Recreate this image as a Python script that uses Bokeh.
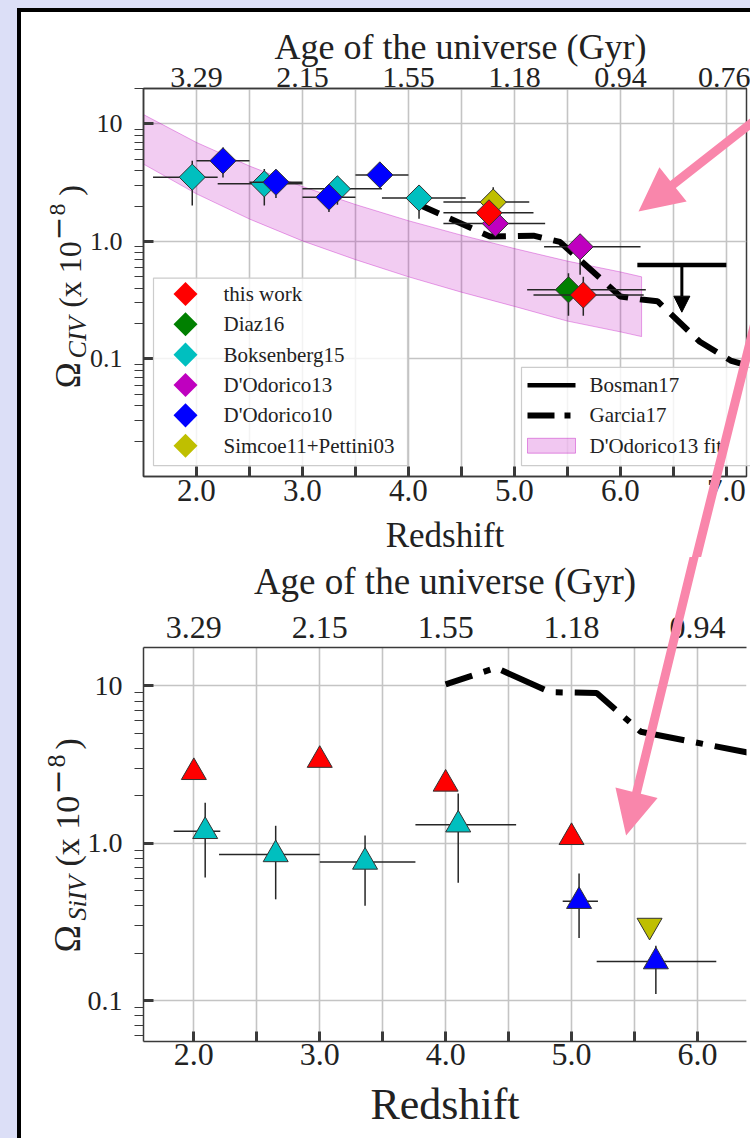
import numpy as np
from bokeh.core.properties import value
from bokeh.embed import file_html
from bokeh.layouts import column
from bokeh.models import Arrow, FixedTicker, LinearAxis, NormalHead, Range1d
from bokeh.plotting import figure
from bokeh.resources import INLINE

# ------------------------------------------------------------------ ticks
z_ticks = [2.0, 2.5, 3.0, 3.5, 4.0, 4.5, 5.0, 5.5, 6.0, 6.5, 7.0]
z_tick_labels = ["2.0", "", "3.0", "", "4.0", "", "5.0", "", "6.0", "", "7.0"]
age_ticks = [2, 3, 4, 5, 6, 7]
age_labels = ["3.29", "2.15", "1.55", "1.18", "0.94", "0.76"]
om_ticks = [0.1, 1.0, 10.0]
om_tick_labels = ["0.1", "1.0", "10"]

# ------------------------------------------------------------------ C IV
civ_this_z = [4.76, 5.65]
civ_this_zlo = [4.33, 5.18]
civ_this_zhi = [5.18, 6.22]
civ_this_om = [1.75, 0.35]
civ_this_omlo = [1.50, 0.233]
civ_this_omhi = [2.00, 0.50]

civ_diaz_z = [5.51]
civ_diaz_zlo = [5.12]
civ_diaz_zhi = [6.24]
civ_diaz_om = [0.388]
civ_diaz_omlo = [0.233]
civ_diaz_omhi = [0.537]

civ_boks_z = [1.96, 2.64, 3.33, 4.10]
civ_boks_zlo = [1.59, 2.20, 3.00, 3.75]
civ_boks_zhi = [2.20, 3.00, 3.75, 4.54]
civ_boks_om = [3.52, 3.09, 2.80, 2.34]
civ_boks_omlo = [2.02, 2.02, 2.05, 1.56]
civ_boks_omhi = [4.86, 4.14, 3.60, 2.90]

civ_dod13_z = [4.82, 5.62]
civ_dod13_zlo = [4.33, 5.28]
civ_dod13_zhi = [5.29, 6.19]
civ_dod13_om = [1.42, 0.90]
civ_dod13_omlo = [1.20, 0.52]
civ_dod13_omhi = [1.70, 1.15]

civ_dod10_z = [2.25, 2.75, 3.25, 3.73]
civ_dod10_zlo = [2.00, 2.50, 3.00, 3.50]
civ_dod10_zhi = [2.50, 3.00, 3.50, 4.00]
civ_dod10_om = [4.85, 3.19, 2.38, 3.68]
civ_dod10_omlo = [3.50, 2.34, 1.78, 2.80]
civ_dod10_omhi = [6.30, 4.00, 2.95, 4.70]

civ_simcoe_z = [4.80]
civ_simcoe_zlo = [4.33]
civ_simcoe_zhi = [5.14]
civ_simcoe_om = [2.16]
civ_simcoe_omlo = [1.60]
civ_simcoe_omhi = [2.89]

civ_garcia_z = [4.08, 4.77, 5.18, 5.43, 6.00, 6.20, 6.35, 6.75, 7.04, 7.25]
civ_garcia_om = [2.09, 1.10, 1.12, 0.99, 0.34, 0.32, 0.31, 0.14, 0.097, 0.085]

bosman_zlo = [6.16]
bosman_zhi = [7.00]
bosman_lim = [0.63]
bosman_tip = [0.25]

dod13_fit_z = [1.5, 2.0, 2.5, 3.0, 3.5, 4.0, 4.5, 5.0, 5.5, 6.0, 6.2]
dod13_fit_hi = [12.0, 6.95, 4.38, 2.93, 2.06, 1.50, 1.13, 0.87, 0.68, 0.55, 0.50]
dod13_fit_lo = [4.55, 2.54, 1.55, 1.01, 0.70, 0.50, 0.37, 0.28, 0.21, 0.17, 0.155]

# ------------------------------------------------------------------ Si IV
siiv_this_z = [2.0, 3.0, 4.0, 5.0]
siiv_this_om = [2.82, 3.37, 2.38, 1.09]

siiv_boks_z = [2.09, 2.65, 3.36, 4.10]
siiv_boks_zlo = [1.84, 2.20, 3.00, 3.76]
siiv_boks_zhi = [2.21, 3.00, 3.76, 4.56]
siiv_boks_om = [1.19, 0.848, 0.76, 1.31]
siiv_boks_omlo = [0.606, 0.44, 0.40, 0.56]
siiv_boks_omhi = [1.81, 1.29, 1.12, 2.07]

siiv_dod10_z = [5.06, 5.67]
siiv_dod10_zlo = [4.93, 5.20]
siiv_dod10_zhi = [5.21, 6.15]
siiv_dod10_om = [0.428, 0.177]
siiv_dod10_omlo = [0.25, 0.110]
siiv_dod10_omhi = [0.643, 0.223]

siiv_simcoe_z = [5.62]
siiv_simcoe_om = [0.30]

siiv_garcia_z = [4.0, 4.4, 4.83, 5.2, 5.55, 6.45]
siiv_garcia_om = [10.2, 13.0, 9.1, 9.0, 5.1, 3.7]

# ------------------------------------------------------------------ style
FONT = "Liberation Serif"
MATH_FONT = "DejaVu Sans"
INK = "#222222"
SPINE = "#3a3a3a"
GRID = "#c4c4c4"
BAR = "#262626"
PINK = "#f986ab"
LAVENDER = "#dcdff7"
RED, GREEN, CYAN, MAGENTA, BLUE, OLIVE = ("#ff0000", "#008000", "#00bfbf",
                                          "#bf00bf", "#0000ff", "#bfbf00")

W = 750
H_TOP, H_BOT = 557, 581
PAGE_Y_BOT = H_TOP
# frame edges in page pixels: left, right, top, bottom
FR_TOP = (143, 746, 88, 479)
FR_BOT = (139, 750, 647, 1041)
XR_TOP, YR_TOP = (1.5, 7.19), (0.01, 20.0)
XR_BOT, YR_BOT = (1.6, 6.39), (0.055, 17.5)

om_minor = [m * 10.0 ** e for e in range(-3, 2) for m in range(2, 10)]

# lavender page margin with a black rule along its top and left edges
PAGE_BACKGROUND = ", ".join([
    f"linear-gradient(to bottom, {LAVENDER} 8px, transparent 8px)",
    f"linear-gradient(to right, {LAVENDER} 17px, transparent 17px)",
    "linear-gradient(to bottom, transparent 8px, #000 8px, #000 12px, transparent 12px)",
    "linear-gradient(to right, transparent 17px, #000 17px, #000 21.5px, transparent 21.5px)",
    "#ffffff",
])


class Page:
    """A panel plus the mapping from page pixels to its data coordinates."""

    def __init__(self, p, fr, xr, yr):
        self.p, self.fr, self.xr, self.yr = p, fr, xr, yr

    def at(self, px, py):
        left, right, top, bottom = self.fr
        x = self.xr[0] + (px - left) * (self.xr[1] - self.xr[0]) / (right - left)
        l0, l1 = np.log10(self.yr[0]), np.log10(self.yr[1])
        ly = l1 - (py - top) * (l1 - l0) / (bottom - top)
        return float(x), float(10 ** ly)

    def shape(self, pts, color, alpha=1.0, level="overlay", **kw):
        xs, ys = zip(*[self.at(a, b) for a, b in pts])
        return self.p.patch(list(xs), list(ys), fill_color=color, fill_alpha=alpha,
                            level=level, **kw)

    def text(self, px, py, text, size, style="normal", angle=0.0, align="left",
             baseline="middle", font=FONT, level="overlay"):
        x, y = self.at(px, py)
        return self.p.text(x=[x], y=[y], text=[text], text_font=value(font),
                           text_font_size=f"{size}px", text_font_style=style,
                           text_color=INK, angle=angle, text_align=align,
                           text_baseline=baseline, level=level)


def rect(x0, y0, x1, y1):
    return [(x0, y0), (x1, y0), (x1, y1), (x0, y1)]


def arrow_outline(tail, tip, half_w=4.5, head_len=44.0, head_half=22.0):
    s = np.array(tail, float)
    t = np.array(tip, float)
    d = (t - s) / np.hypot(*(t - s))
    n = np.array([-d[1], d[0]])
    b = t - head_len * d
    pts = [s + half_w * n, b + half_w * n, b + head_half * n, t,
           b - head_half * n, b - half_w * n, s - half_w * n]
    return [(float(q[0]), float(q[1])) for q in pts]


def make_panel(height, page_y, fr, xr, yr, tick_px, ytick_px, top_px, title_px, xlabel_px,
               top_standoffs, bottom_standoffs, top_title=True):
    left, right, top, bottom = fr
    p = figure(width=W, height=height, x_range=Range1d(*xr), y_range=Range1d(*yr),
               y_axis_type="log", output_backend="svg", toolbar_location=None,
               min_border_left=left, min_border_right=W - right,
               min_border_top=top - page_y, min_border_bottom=page_y + height - bottom,
               background_fill_color="white", border_fill_alpha=0.0)

    def fonts(ax, t_px, l_px):
        ax.major_label_text_font = FONT
        ax.major_label_text_font_size = f"{t_px}px"
        ax.major_label_text_color = INK
        ax.axis_label_text_font = FONT
        ax.axis_label_text_font_size = f"{l_px}px"
        ax.axis_label_text_font_style = "normal"
        ax.axis_label_text_color = INK
        ax.axis_line_color = SPINE
        ax.axis_line_width = 1.5
        ax.major_tick_line_color = SPINE
        ax.minor_tick_line_color = SPINE

    xa = p.below[0]
    xa.ticker = FixedTicker(ticks=z_ticks)
    xa.major_label_overrides = dict(zip(z_ticks, z_tick_labels))
    xa.major_tick_in, xa.major_tick_out, xa.major_tick_line_width = 10, 0, 3
    xa.major_label_standoff, xa.axis_label_standoff = bottom_standoffs
    xa.axis_label = "Redshift"
    fonts(xa, tick_px, xlabel_px)

    ya = p.left[0]
    ya.ticker = FixedTicker(ticks=om_ticks, minor_ticks=om_minor)
    ya.major_label_overrides = dict(zip(om_ticks, om_tick_labels))
    ya.major_tick_in, ya.major_tick_out, ya.major_tick_line_width = 10, 0, 3
    ya.minor_tick_in, ya.minor_tick_out, ya.minor_tick_line_width = 0, 9, 1.2
    ya.major_label_standoff = 12
    fonts(ya, ytick_px, 10)

    ta = LinearAxis(ticker=FixedTicker(ticks=age_ticks),
                    major_label_overrides=dict(zip(age_ticks, age_labels)))
    if top_title:
        ta.axis_label = "Age of the universe (Gyr)"
    ta.major_tick_in = ta.major_tick_out = 0
    ta.minor_tick_in = ta.minor_tick_out = 0
    ta.major_label_standoff, ta.axis_label_standoff = top_standoffs
    fonts(ta, top_px, title_px)
    p.add_layout(ta, "above")

    p.xgrid.ticker = FixedTicker(ticks=z_ticks)
    p.ygrid.ticker = FixedTicker(ticks=om_ticks)
    p.grid.grid_line_color = GRID
    p.grid.grid_line_width = 1.6
    return Page(p, fr, xr, yr)


def errorbars(p, z, zlo, zhi, om, omlo, omhi):
    p.segment(x0=zlo, y0=om, x1=zhi, y1=om, line_color=BAR, line_width=1.5)
    p.segment(x0=z, y0=omlo, x1=z, y1=omhi, line_color=BAR, line_width=1.5)


def y_title(pg, pieces):
    """Vertical axis title assembled from pieces: (text, size, style, font, centre x, start y)."""
    for text, size, style, font, cx, sy in pieces:
        pg.text(cx, sy, text, size, style, angle=np.pi / 2, baseline="middle", font=font)


# ================================================================== C IV panel
pt = make_panel(H_TOP, 0, FR_TOP, XR_TOP, YR_TOP, 31, 26, 30, 36, 35, (2, 0), (3, 12),
                top_title=False)
top = pt.p
top.outline_line_color = SPINE
top.outline_line_width = 1.5
pt.text(460, 46, "Age of the universe (Gyr)", 36, align="center", level="guide")

# D'Odorico13 fit band
top.patch(x=dod13_fit_z + dod13_fit_z[::-1], y=dod13_fit_hi + dod13_fit_lo[::-1],
          fill_color=MAGENTA, fill_alpha=0.2, line_color=MAGENTA, line_alpha=0.35, line_width=1)

# Garcia17 model
top.line(civ_garcia_z, civ_garcia_om, line_color="black", line_width=6, line_dash="24 12")

civ_series = [
    (civ_simcoe_z, civ_simcoe_zlo, civ_simcoe_zhi, civ_simcoe_om, civ_simcoe_omlo, civ_simcoe_omhi, OLIVE),
    (civ_boks_z, civ_boks_zlo, civ_boks_zhi, civ_boks_om, civ_boks_omlo, civ_boks_omhi, CYAN),
    (civ_dod10_z, civ_dod10_zlo, civ_dod10_zhi, civ_dod10_om, civ_dod10_omlo, civ_dod10_omhi, BLUE),
    (civ_dod13_z, civ_dod13_zlo, civ_dod13_zhi, civ_dod13_om, civ_dod13_omlo, civ_dod13_omhi, MAGENTA),
    (civ_diaz_z, civ_diaz_zlo, civ_diaz_zhi, civ_diaz_om, civ_diaz_omlo, civ_diaz_omhi, GREEN),
    (civ_this_z, civ_this_zlo, civ_this_zhi, civ_this_om, civ_this_omlo, civ_this_omhi, RED),
]
for z, zlo, zhi, om, omlo, omhi, col in civ_series:
    errorbars(top, z, zlo, zhi, om, omlo, omhi)
    top.scatter(z, om, marker="square", angle=np.pi / 4, size=18.5,
                fill_color=col, line_color="#333333", line_width=1)

# Bosman17 upper limit
bosman_mid = [(a + b) / 2 for a, b in zip(bosman_zlo, bosman_zhi)]
top.segment(x0=bosman_zlo, y0=bosman_lim, x1=bosman_zhi, y1=bosman_lim,
            line_color="black", line_width=4.5)
top.add_layout(Arrow(x_start=bosman_mid[0], y_start=bosman_lim[0], x_end=bosman_mid[0],
                     y_end=bosman_tip[0], line_color="black", line_width=3,
                     end=NormalHead(size=16, fill_color="black", line_color="black")))

# legends, laid out in page pixels
legend1_names = ["this work", "Diaz16", "Boksenberg15", "D'Odorico13", "D'Odorico10",
                 "Simcoe11+Pettini03"]
legend1_colors = [RED, GREEN, CYAN, MAGENTA, BLUE, OLIVE]
pt.shape(rect(153, 279, 407, 468), "white", 0.8, level="annotation",
         line_color="#cccccc", line_width=1.2)
mk_x, mk_y = [], []
for i, name in enumerate(legend1_names):
    row = 295 + 30.6 * i
    x, y = pt.at(185, row)
    mk_x.append(x)
    mk_y.append(y)
    pt.text(223, row, name, 21)
top.scatter(mk_x, mk_y, marker="square", angle=np.pi / 4, size=17, fill_color=legend1_colors,
            line_color=None, level="overlay")

legend2_names = ["Bosman17", "Garcia17", "D'Odorico13 fit"]
rows2 = [387, 417.5, 448]
pt.shape(rect(521, 369, 790, 468), "white", 0.8, level="annotation",
         line_color="#cccccc", line_width=1.2)
for name, row in zip(legend2_names, rows2):
    pt.text(589, row, name, 21)
(ax0, ay0), (ax1, _) = pt.at(527, rows2[0]), pt.at(575, rows2[0])
_, ay1 = pt.at(527, rows2[1])
top.line([ax0, ax1], [ay0, ay0], line_color="black", line_width=4.5, level="overlay")
top.line([ax0, ax1], [ay1, ay1], line_color="black", line_width=6, line_dash="27 10 6 10",
         level="overlay")
pt.shape(rect(527, rows2[2] - 7.5, 575, rows2[2] + 7.5), MAGENTA, 0.22,
         line_color=MAGENTA, line_alpha=0.4, line_width=1)

y_title(pt, [("Ω", 35, "normal", FONT, 68, 390),
             ("CIV", 26, "italic", FONT, 77, 360),
             ("(x 10", 32, "normal", FONT, 69, 309),
             ("−", 28, "normal", MATH_FONT, 57, 241),
             ("8", 24, "normal", FONT, 57, 216),
             (")", 32, "normal", FONT, 69, 196)])

# ================================================================== Si IV panel
pb = make_panel(H_BOT, PAGE_Y_BOT, FR_BOT, XR_BOT, YR_BOT, 32, 28, 32, 37, 44, (10, 12), (2, 12))
bot = pb.p
bot.outline_line_color = None

bot.line(siiv_garcia_z, siiv_garcia_om, line_color="black", line_width=6,
         line_dash="47 12 7 12", line_dash_offset=19)

bot.scatter(siiv_this_z, siiv_this_om, marker="triangle", size=25, fill_color=RED,
            line_color="#333333", line_width=1)
errorbars(bot, siiv_boks_z, siiv_boks_zlo, siiv_boks_zhi, siiv_boks_om, siiv_boks_omlo, siiv_boks_omhi)
bot.scatter(siiv_boks_z, siiv_boks_om, marker="triangle", size=25, fill_color=CYAN,
            line_color="#333333", line_width=1)
errorbars(bot, siiv_dod10_z, siiv_dod10_zlo, siiv_dod10_zhi, siiv_dod10_om, siiv_dod10_omlo, siiv_dod10_omhi)
bot.scatter(siiv_dod10_z, siiv_dod10_om, marker="triangle", size=25, fill_color=BLUE,
            line_color="#333333", line_width=1)
bot.scatter(siiv_simcoe_z, siiv_simcoe_om, marker="inverted_triangle", size=25,
            fill_color=OLIVE, line_color="#333333", line_width=1)

y_title(pb, [("Ω", 37, "normal", FONT, 62, 952),
             ("SiIV", 26, "italic", FONT, 72, 920),
             ("(x 10", 34, "normal", FONT, 62, 866),
             ("−", 30, "normal", MATH_FONT, 51, 794),
             ("8", 26, "normal", FONT, 51, 767),
             (")", 34, "normal", FONT, 62, 749)])

# ================================================================== pointers
pointer_a = arrow_outline((795, 88), (638, 212))
pointer_b = arrow_outline((796, 156), (628, 835))
pt.shape(pointer_a, PINK, line_color=None)
pt.shape(pointer_b, PINK, line_color=None)
pb.shape(pointer_b, PINK, line_color=None)

page = column(top, bot, spacing=0, styles={"background": PAGE_BACKGROUND})
open("out.html", "w").write(file_html(page, INLINE, title="C IV and Si IV mass densities"))
